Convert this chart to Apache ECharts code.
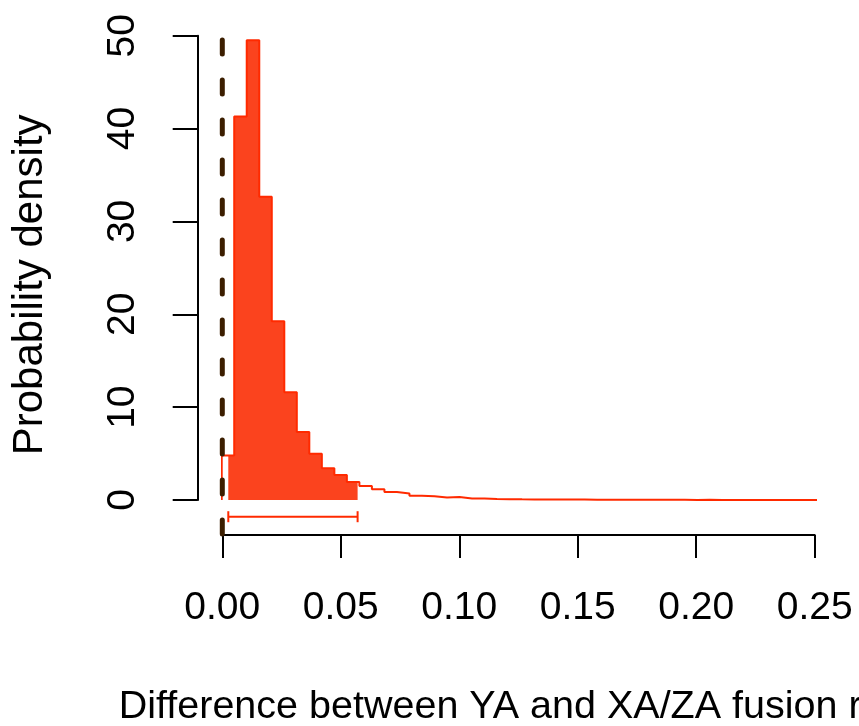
<!DOCTYPE html>
<html>
<head>
<meta charset="utf-8">
<script src="https://cdn.jsdelivr.net/npm/echarts@6/dist/echarts.min.js"></script>
<style>
html,body{margin:0;padding:0;background:#fff;}
#chart{width:859px;height:726px;}
</style>
</head>
<body>
<div id="chart"></div>
<script>
// ---- data ----
const breaks = [-0.00025, 0.00503, 0.01031, 0.01560, 0.02088, 0.02616, 0.03144, 0.03672, 0.04201, 0.04729,
  0.05257, 0.05785, 0.06313, 0.06842, 0.07370, 0.07898, 0.08426, 0.08954, 0.09483, 0.10011,
  0.10539, 0.11067, 0.11595, 0.12124, 0.12652, 0.13180, 0.13708, 0.14236, 0.14765, 0.15293,
  0.15821, 0.16349, 0.16877, 0.17406, 0.17934, 0.18462, 0.18990, 0.19518, 0.20047, 0.20575,
  0.21103, 0.21631, 0.22159, 0.22688, 0.23216, 0.23744, 0.24272, 0.24800, 0.25329, 0.25857];
const densities = [4.79, 41.3, 49.5, 32.66, 19.24, 11.6, 7.32, 4.99, 3.42, 2.68,
  1.95, 1.52, 1.17, 0.87, 0.69, 0.47, 0.40, 0.26, 0.33, 0.16,
  0.15, 0.10, 0.09, 0.07, 0.06, 0.05, 0.06, 0.05, 0.05, 0.04,
  0.04, 0.03, 0.03, 0.02, 0.02, 0.02, 0.02, 0.01, 0.02, 0.01,
  0.01, 0.01, 0.01, 0.01, 0.01, 0.01, 0.01, 0.01, 0.01];
const hpdInterval = [0.00253, 0.0571];
const hpdBarLevel = [-1.8];
const refLineX = [0];
const refLineSpan = [49.55, -4.0];
const xTickValues = [0, 0.05, 0.10, 0.15, 0.20, 0.25];
const yTickValues = [0, 10, 20, 30, 40, 50];
const xTitle = 'Difference between YA and XA/ZA fusion rates';
const yTitle = 'Probability density';

// ---- build series data from the arrays ----
const outline = [[breaks[0], 0]];
for (let i = 0; i < densities.length; i++) {
  outline.push([breaks[i], densities[i]], [breaks[i + 1], densities[i]]);
}
outline.push([breaks[breaks.length - 1], 0]);

const lo = hpdInterval[0], hi = hpdInterval[1];
const fill = [[lo, 0]];
for (let i = 0; i < densities.length; i++) {
  if (breaks[i + 1] > lo && breaks[i] < hi) {
    const a = Math.max(breaks[i], lo), b = Math.min(breaks[i + 1], hi);
    fill.push([a, densities[i]], [b, densities[i]]);
  }
}
fill.push([hi, 0]);

const FONT = '"Liberation Sans", Arial, Helvetica, sans-serif';
const RED_LINE = '#FF2A00';
const RED_FILL = '#FB431E';

const chart = echarts.init(document.getElementById('chart'), null, {renderer: 'canvas'});
chart.setOption({
  animation: false,
  backgroundColor: '#ffffff',
  grid: {left: 222.3, right: 44.3, top: 35.7, bottom: 226, containLabel: false, outerBoundsMode: 'none'},
  xAxis: {
    type: 'value',
    min: xTickValues[0], max: xTickValues[xTickValues.length - 1], interval: 0.05,
    offset: 35,
    axisLine: {show: true, onZero: false, lineStyle: {color: '#000', width: 2}},
    axisTick: {show: true, length: 23, lineStyle: {color: '#000', width: 2}},
    splitLine: {show: false},
    axisLabel: {
      color: '#000', fontFamily: FONT, fontSize: 39, margin: 53, lineHeight: 40,
      formatter: v => v.toFixed(2)
    },
    name: xTitle, nameLocation: 'middle', nameGap: 152,
    nameTextStyle: {color: '#000', fontFamily: FONT, fontSize: 39.5, lineHeight: 40, padding: [0, 0, 0, 18]}
  },
  yAxis: {
    type: 'value',
    min: yTickValues[0], max: yTickValues[yTickValues.length - 1], interval: 10,
    offset: 24.6,
    axisLine: {show: true, onZero: false, lineStyle: {color: '#000', width: 2}},
    axisTick: {show: true, length: 25, lineStyle: {color: '#000', width: 2}},
    splitLine: {show: false},
    axisLabel: {color: '#000', fontFamily: FONT, fontSize: 39, margin: 54, lineHeight: 40, rotate: 90},
    name: yTitle, nameLocation: 'middle', nameGap: 146, nameRotate: 90,
    nameTextStyle: {color: '#000', fontFamily: FONT, fontSize: 42, lineHeight: 42, padding: [0, 34, 0, 0]}
  },
  series: [
    {
      type: 'line', data: fill, symbol: 'none', clip: false, z: 2,
      lineStyle: {width: 0, color: RED_FILL},
      areaStyle: {color: RED_FILL, opacity: 1}
    },
    {
      type: 'line', data: outline, symbol: 'none', clip: false, z: 3,
      lineStyle: {width: 2, color: RED_LINE}
    },
    {
      type: 'custom', clip: false, z: 4,
      data: [[hpdInterval[0], hpdInterval[1], hpdBarLevel[0]]],
      renderItem: function (params, api) {
        const p1 = api.coord([api.value(0), api.value(2)]);
        const p2 = api.coord([api.value(1), api.value(2)]);
        const h = 5.5;
        const st = {stroke: RED_LINE, lineWidth: 2, fill: null};
        return {
          type: 'group',
          children: [
            {type: 'line', shape: {x1: p1[0], y1: p1[1], x2: p2[0], y2: p2[1]}, style: st},
            {type: 'line', shape: {x1: p1[0], y1: p1[1] - h, x2: p1[0], y2: p1[1] + h}, style: st},
            {type: 'line', shape: {x1: p2[0], y1: p2[1] - h, x2: p2[0], y2: p2[1] + h}, style: st}
          ]
        };
      }
    },
    {
      type: 'line', data: [[refLineX[0], refLineSpan[0]], [refLineX[0], refLineSpan[1]]],
      symbol: 'none', clip: false, z: 5,
      lineStyle: {color: '#3C1E00', width: 5, type: [14, 26], cap: 'round'}
    }
  ]
});
</script>
</body>
</html>
